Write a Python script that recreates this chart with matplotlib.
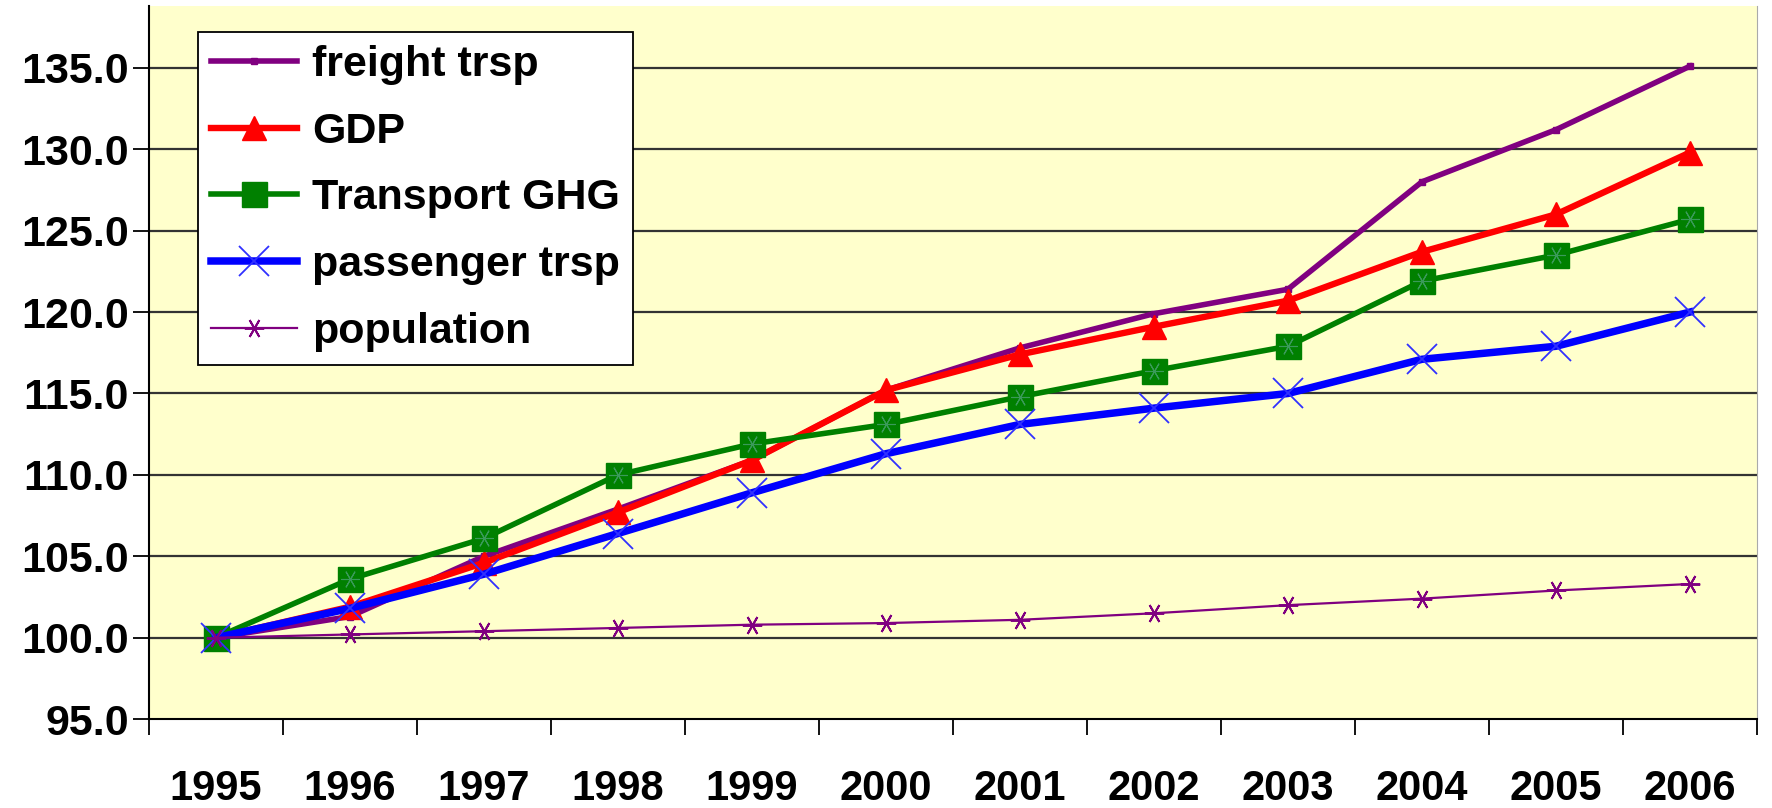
import matplotlib.pyplot as plt
from matplotlib.ticker import FixedLocator

# %% Data
years = ["1995", "1996", "1997", "1998", "1999", "2000",
         "2001", "2002", "2003", "2004", "2005", "2006"]
freight_trsp = [100.0, 101.3, 105.0, 107.9, 110.9, 115.2,
                117.8, 119.9, 121.4, 128.0, 131.2, 135.1]
gdp = [100.0, 101.9, 104.6, 107.7, 110.9, 115.2,
       117.4, 119.1, 120.7, 123.7, 126.0, 129.8]
transport_ghg = [100.0, 103.6, 106.1, 110.0, 111.9, 113.1,
                 114.8, 116.4, 117.9, 121.9, 123.5, 125.7]
passenger_trsp = [100.0, 101.8, 103.9, 106.4, 108.9, 111.3,
                  113.1, 114.1, 115.0, 117.1, 117.9, 120.0]
population = [100.0, 100.2, 100.4, 100.6, 100.8, 100.9,
              101.1, 101.5, 102.0, 102.4, 102.9, 103.3]
y_ticks = [95, 100, 105, 110, 115, 120, 125, 130, 135]

# %% Plot
plt.rcParams["font.family"] = ["Liberation Sans", "DejaVu Sans"]
plt.rcParams["font.weight"] = "bold"

fig = plt.figure(figsize=(17.72, 8.08), dpi=100)
ax = fig.add_axes([0.084, 0.110, 0.9075, 0.8826])
ax.set_facecolor("#ffffcc")

x = list(range(len(years)))

ax.plot(x, freight_trsp, color="#800080", lw=4.0, marker="s", ms=5,
        label="freight trsp", zorder=3)
ax.plot(x, gdp, color="#ff0000", lw=4.6, marker="^", ms=17,
        label="GDP", zorder=4)
ax.plot(x, transport_ghg, color="#008000", lw=4.0, marker="s", ms=18,
        label="Transport GHG", zorder=5)
# asterisk inside the green squares
ax.plot(x, transport_ghg, ls="none", marker=(6, 2, 90), ms=13, mew=0.8,
        color="#3a9a5a", zorder=5)
ax.plot(x, passenger_trsp, color="#0000ff", lw=5.4, marker="x", ms=21, mew=1.3,
        mec="#3030ff", label="passenger trsp", zorder=6)
ax.plot(x, population, color="#800080", lw=1.6, marker=(6, 2, 90), ms=14, mew=1.4,
        label="population", zorder=7)

ax.set_xlim(-0.5, len(years) - 0.5)
ax.set_ylim(95, 138.8)

ax.set_yticks(y_ticks)
ax.set_yticklabels([f"{v:.1f}" for v in y_ticks])
ax.tick_params(axis="y", length=11.5, width=1.3, pad=3, labelsize=31, direction="out")

ax.set_xticks(x)
ax.set_xticklabels(years)
ax.tick_params(axis="x", which="major", length=0, pad=36, labelsize=30)
ax.xaxis.set_minor_locator(FixedLocator([i - 0.5 for i in range(len(years) + 1)]))
ax.tick_params(axis="x", which="minor", length=11.5, width=1.3, direction="out")

for v in y_ticks[1:]:
    ax.axhline(v, color="#333333", lw=1.6, zorder=1)

ax.spines["top"].set_visible(False)
ax.spines["right"].set_color("#aaaaaa")
ax.spines["left"].set_linewidth(1.5)
ax.spines["bottom"].set_linewidth(1.5)

handles, labels = ax.get_legend_handles_labels()
leg = ax.legend(handles, labels, loc="upper left", bbox_to_anchor=(0.0305, 0.9635),
                borderaxespad=0, fontsize=31, frameon=True, fancybox=False,
                edgecolor="black", facecolor="white", framealpha=1,
                handlelength=2.0, handletextpad=0.35, labelspacing=0.62,
                borderpad=0.3)
leg.get_frame().set_linewidth(1.3)
for t in leg.get_texts():
    t.set_fontweight("bold")

fig.savefig("out.png", dpi=100)
